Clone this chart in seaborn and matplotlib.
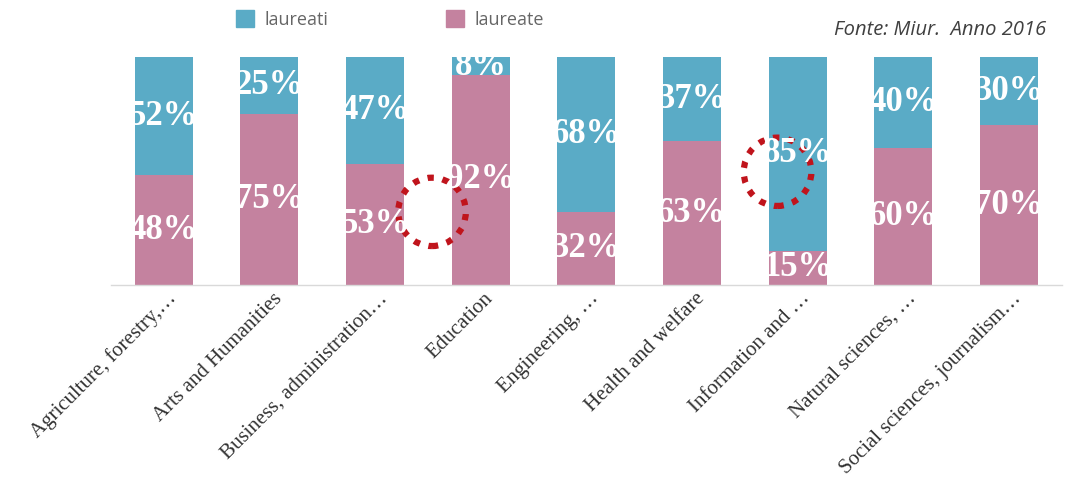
import matplotlib
matplotlib.use("Agg")
import matplotlib.pyplot as plt
import matplotlib.transforms as mtransforms
from matplotlib.patches import Ellipse, Patch
import pandas as pd
import seaborn as sns

categories = [
    "Agriculture, forestry,…",
    "Arts and Humanities",
    "Business, administration…",
    "Education",
    "Engineering, …",
    "Health and welfare",
    "Information and …",
    "Natural sciences, …",
    "Social sciences, journalism…",
]
laureate = [48, 75, 53, 92, 32, 63, 15, 60, 70]
laureati = [52, 25, 47, 8, 68, 37, 85, 40, 30]

BLUE = "#5aabc6"
PINK = "#c4829f"

df = pd.DataFrame({"cat": categories, "laureate": laureate, "laureati": laureati})
df["total"] = df["laureate"] + df["laureati"]

sns.set_theme(style="white")
fig = plt.figure(figsize=(10.65, 4.91), dpi=100)
ax = fig.add_axes([0.104, 0.42, 0.893, 0.464])

sns.barplot(data=df, x="cat", y="total", color=BLUE, width=0.55, ax=ax,
            saturation=1, linewidth=0)
sns.barplot(data=df, x="cat", y="laureate", color=PINK, width=0.55, ax=ax,
            saturation=1, linewidth=0)

lab_font = dict(family="Liberation Serif", weight="bold", size=25, color="white")
for i, (f, m) in enumerate(zip(laureate, laureati)):
    ax.text(i, f / 2, f"{f}%", ha="center", va="center", **lab_font)
    ax.text(i, f + m / 2, f"{m}%", ha="center", va="center", **lab_font)

ax.set_xlim(-0.5, 8.5)
ax.set_ylim(0, 100)
ax.set_xlabel("")
ax.set_ylabel("")
ax.set_yticks([])
for s in ["top", "left", "right"]:
    ax.spines[s].set_visible(False)
ax.spines["bottom"].set_color("#d9d9d9")
ax.spines["bottom"].set_linewidth(1)
ax.tick_params(axis="x", length=0, pad=0)

offset = mtransforms.ScaledTranslation(0.10, -0.11, fig.dpi_scale_trans)
for lbl in ax.get_xticklabels():
    lbl.set_rotation(45)
    lbl.set_ha("right")
    lbl.set_va("center")
    lbl.set_rotation_mode("anchor")
    lbl.set_fontfamily("Liberation Serif")
    lbl.set_fontsize(15)
    lbl.set_color("#333333")
    lbl.set_transform(lbl.get_transform() + offset)

# dotted red circles
for cx, cy in [(2.54, 32), (5.81, 49.6)]:
    ax.add_patch(Ellipse((cx, cy), 0.64, 30, fill=False, edgecolor="#c0141c",
                         lw=4.5, linestyle=(0, (1, 1.4)), clip_on=False))

handles = [Patch(color=BLUE, label="laureati"), Patch(color=PINK, label="laureate")]
fig.legend(handles=handles, loc="upper left", bbox_to_anchor=(0.206, 1.012), ncol=2,
           frameon=False, handlelength=1.0, handleheight=1.0, handletextpad=0.6,
           columnspacing=6.5, prop={"family": "Open Sans", "size": 13}, labelcolor="#666666")

fig.text(0.982, 0.938, "Fonte: Miur.  Anno 2016", ha="right", va="center",
         fontsize=14.5, style="italic", color="#404040", family="Open Sans")

fig.savefig("out.png", dpi=100)
